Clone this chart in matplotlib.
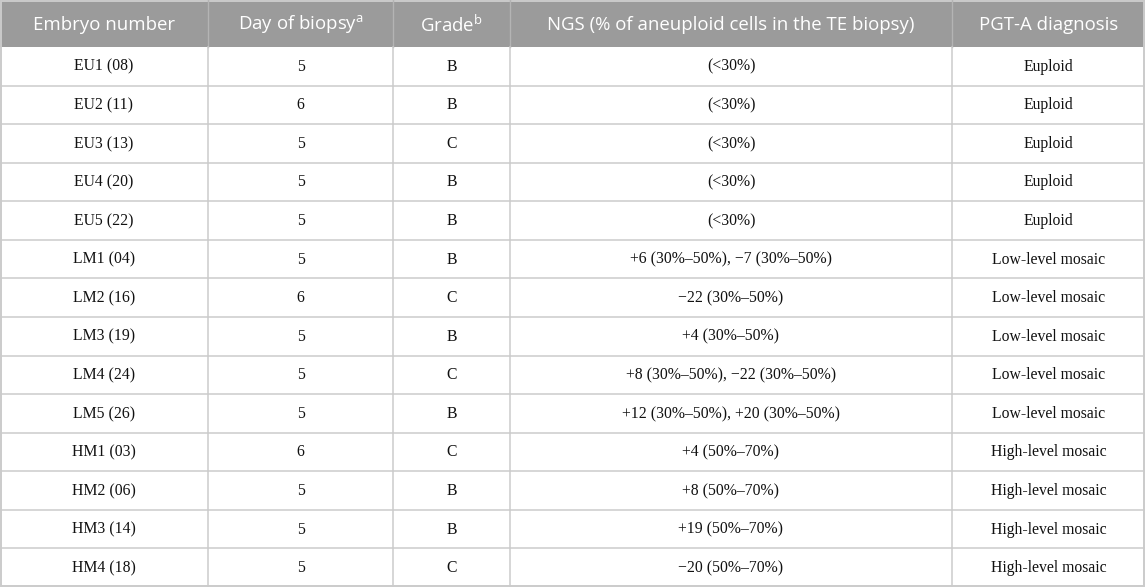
import matplotlib
matplotlib.use("Agg")
import matplotlib.pyplot as plt
from matplotlib.patches import Rectangle
import numpy as np

# %% Table content
headers = [
    "Embryo number",
    r"Day of biopsy$^{\mathrm{a}}$",
    r"Grade$^{\mathrm{b}}$",
    "NGS (% of aneuploid cells in the TE biopsy)",
    "PGT-A diagnosis",
]
embryos = ["EU1 (08)", "EU2 (11)", "EU3 (13)", "EU4 (20)", "EU5 (22)",
           "LM1 (04)", "LM2 (16)", "LM3 (19)", "LM4 (24)", "LM5 (26)",
           "HM1 (03)", "HM2 (06)", "HM3 (14)", "HM4 (18)"]
biopsy_day = [5, 6, 5, 5, 5, 5, 6, 5, 5, 5, 6, 5, 5, 5]
grades = ["B", "B", "C", "B", "B", "B", "C", "B", "C", "B", "C", "B", "B", "C"]
ngs = ["(<30%)", "(<30%)", "(<30%)", "(<30%)", "(<30%)",
       "+6 (30%–50%), −7 (30%–50%)",
       "−22 (30%–50%)",
       "+4 (30%–50%)",
       "+8 (30%–50%), −22 (30%–50%)",
       "+12 (30%–50%), +20 (30%–50%)",
       "+4 (50%–70%)",
       "+8 (50%–70%)",
       "+19 (50%–70%)",
       "−20 (50%–70%)"]
diagnosis = ["Euploid"] * 5 + ["Low-level mosaic"] * 5 + ["High-level mosaic"] * 4

# %% Layout (pixels)
W, H = 1145, 587
col_widths = [208, 185, 117, 442, 193]
header_h = 47
n_rows = len(embryos)
row_h = (H - header_h) / n_rows

HEADER_BG = "#9b9b9b"
HEADER_SEP = "#b4b4b4"
GRID = "#cbcbcb"

plt.rcParams["mathtext.fontset"] = "custom"
plt.rcParams["mathtext.rm"] = "Open Sans"

fig = plt.figure(figsize=(W / 100, H / 100), dpi=100)
ax = fig.add_axes([0, 0, 1, 1])
ax.set_xlim(0, W)
ax.set_ylim(H, 0)
ax.axis("off")

x_edges = np.concatenate([[0], np.cumsum(col_widths)])
y_edges = header_h + row_h * np.arange(n_rows + 1)

# header band
ax.add_patch(Rectangle((0, 0), W, header_h, facecolor=HEADER_BG, edgecolor="none"))
for xe in x_edges[1:-1]:
    ax.plot([xe, xe], [0, header_h], color=HEADER_SEP, lw=1.0)
    ax.plot([xe, xe], [header_h, H], color=GRID, lw=1.1)

for ye in y_edges[1:-1]:
    ax.plot([0, W], [ye, ye], color=GRID, lw=1.1)

# outer border
ax.add_patch(Rectangle((0.7, 0.7), W - 1.4, H - 1.4, facecolor="none",
                       edgecolor=GRID, lw=1.4))

x_mid = (x_edges[:-1] + x_edges[1:]) / 2
for j, h in enumerate(headers):
    ax.text(x_mid[j], header_h / 2 + 1.5, h, ha="center", va="center",
            color="white", fontsize=13.4, family="Open Sans")

columns = [embryos, [str(d) for d in biopsy_day], grades, ngs, diagnosis]
for i in range(n_rows):
    yc = (y_edges[i] + y_edges[i + 1]) / 2 + 0.5
    for j, col in enumerate(columns):
        ax.text(x_mid[j], yc, col[i], ha="center", va="center",
                color="#111111", fontsize=11.3, family="Liberation Serif")

fig.savefig("out.png", dpi=100)
